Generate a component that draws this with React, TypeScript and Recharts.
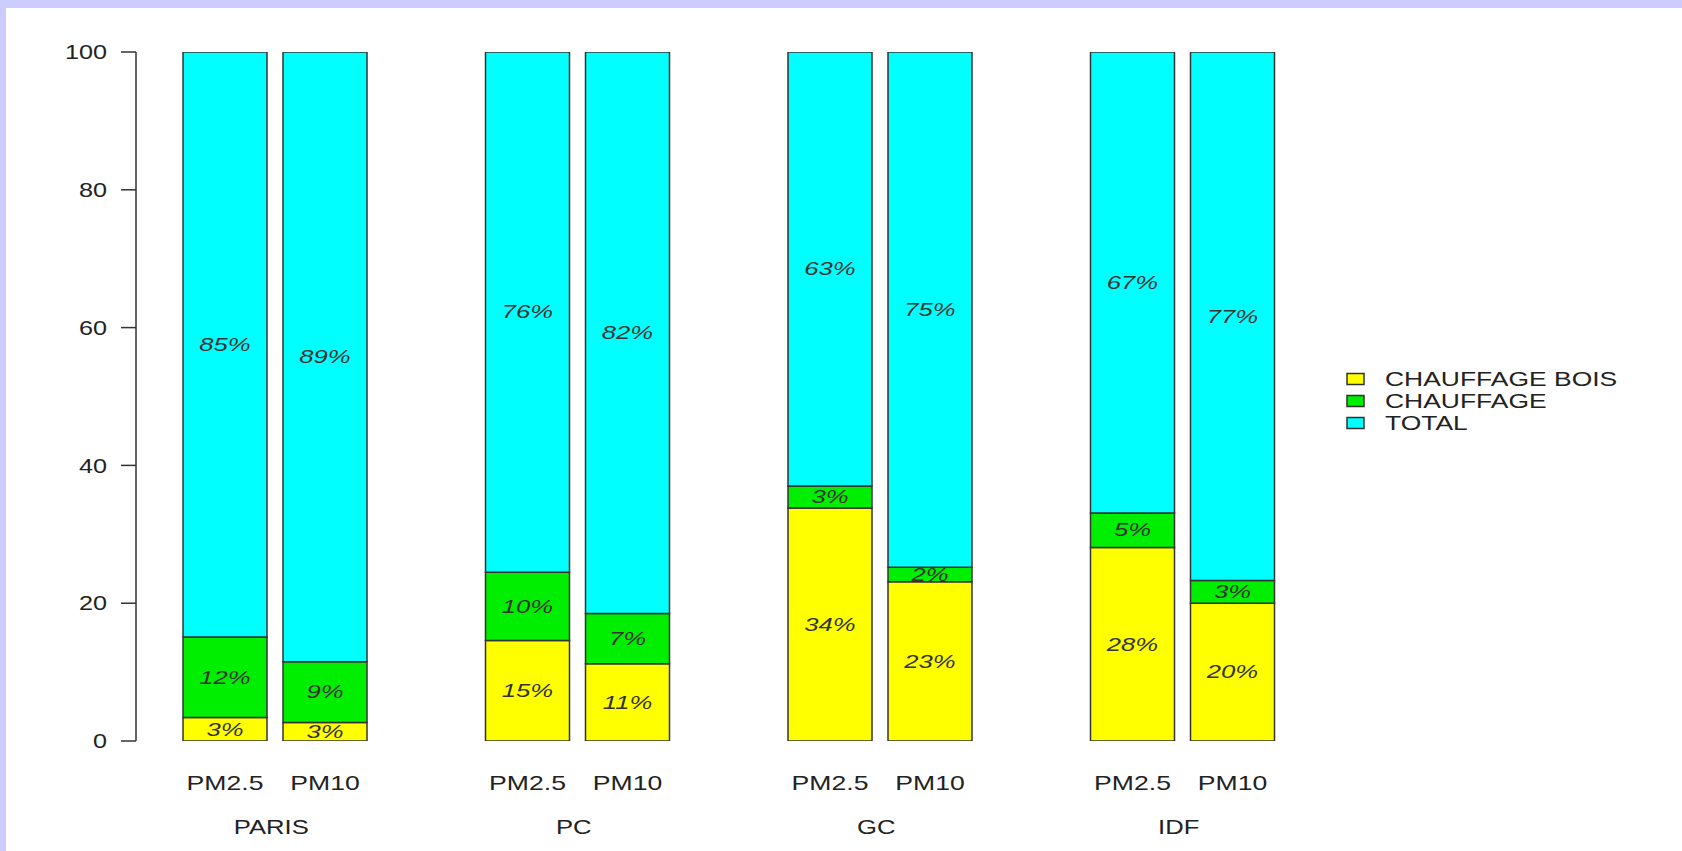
import { BarChart, Bar, XAxis, YAxis, Legend, LabelList } from "recharts";

const regions = ["PARIS", "PC", "GC", "IDF"];
const pollutants = ["PM2.5", "PM10"];
const seriesNames = ["CHAUFFAGE BOIS", "CHAUFFAGE", "TOTAL"];
const seriesColors = ["#ffff00", "#00ee00", "#00ffff"];
const yTicks = [0, 20, 40, 60, 80, 100];

// values per region, PM2.5 then PM10
const boisPm25 = [3.4, 14.6, 33.8, 28.1];
const boisPm10 = [2.7, 11.2, 23.1, 20.0];
const chauffPm25 = [11.7, 9.9, 3.2, 5.0];
const chauffPm10 = [8.8, 7.3, 2.1, 3.3];
const totalPm25 = [84.9, 75.5, 63.0, 66.9];
const totalPm10 = [88.5, 81.5, 74.8, 76.7];

// printed labels
const boisPm25Lbl = ["3%", "15%", "34%", "28%"];
const boisPm10Lbl = ["3%", "11%", "23%", "20%"];
const chauffPm25Lbl = ["12%", "10%", "3%", "5%"];
const chauffPm10Lbl = ["9%", "7%", "2%", "3%"];
const totalPm25Lbl = ["85%", "76%", "63%", "67%"];
const totalPm10Lbl = ["89%", "82%", "75%", "77%"];

const rows = regions.map((r, i) => ({
  region: r,
  pm25Bois: boisPm25[i],
  pm25Chauff: chauffPm25[i],
  pm25Total: totalPm25[i],
  pm10Bois: boisPm10[i],
  pm10Chauff: chauffPm10[i],
  pm10Total: totalPm10[i],
  pm25BoisL: boisPm25Lbl[i],
  pm25ChauffL: chauffPm25Lbl[i],
  pm25TotalL: totalPm25Lbl[i],
  pm10BoisL: boisPm10Lbl[i],
  pm10ChauffL: chauffPm10Lbl[i],
  pm10TotalL: totalPm10Lbl[i],
}));

const FONT = "'Liberation Sans', Arial, sans-serif";
const STROKE = "#333";

function StretchText({ x, y, sx, size, anchor = "middle", italic = false, fill = "#222", children }: any) {
  return (
    <text
      transform={`translate(${x},${y}) scale(${sx},1)`}
      textAnchor={anchor}
      dominantBaseline="central"
      fontSize={size}
      fontFamily={FONT}
      fontStyle={italic ? "italic" : "normal"}
      fill={fill}
    >
      {children}
    </text>
  );
}

function pctLabel(props: any) {
  const { x, y, width, height, value } = props;
  const cx = Number(x) + Number(width) / 2;
  const cy = Number(y) + Number(height) / 2;
  return (
    <StretchText x={cx} y={cy} sx={1.35} size={19} italic fill="#333">
      {value}
    </StretchText>
  );
}

function subLabel(text: string) {
  return (props: any) => {
    const { x, y, width, height } = props;
    const cx = Number(x) + Number(width) / 2;
    const base = Number(y) + Number(height);
    return (
      <StretchText x={cx} y={base + 42} sx={1.33} size={20}>
        {text}
      </StretchText>
    );
  };
}

function GroupTick(props: any) {
  const { x, y, payload } = props;
  return (
    <StretchText x={Number(x) - 4} y={Number(y) + 86} sx={1.22} size={21}>
      {payload.value}
    </StretchText>
  );
}

function YTick(props: any) {
  const { x, y, payload } = props;
  return (
    <StretchText x={x} y={y} sx={1.2} size={21} anchor="end">
      {payload.value}
    </StretchText>
  );
}

function LegendBox() {
  return (
    <svg width={300} height={80}>
      {seriesNames.map((n, i) => (
        <g key={n}>
          <rect x={1} y={15 + i * 22 - 5.5} width={17} height={11} fill={seriesColors[i]} stroke={STROKE} strokeWidth={1.5} />
          <StretchText x={39} y={15 + i * 22} sx={1.26} size={21} anchor="start">
            {n}
          </StretchText>
        </g>
      ))}
    </svg>
  );
}

export default function App() {
  return (
    <div style={{ position: "absolute", left: 0, top: 0, width: 1682, height: 851, background: "#ccccff", overflow: "hidden" }}>
      <div style={{ position: "absolute", left: 6, top: 8, width: 1676, height: 843, background: "#ffffff" }}>
        <BarChart
          width={1676}
          height={843}
          data={rows}
          margin={{ top: 44, right: 348, bottom: 10, left: 0 }}
          barSize={84}
          barGap={16}
        >
          <XAxis
            dataKey="region"
            type="category"
            height={100}
            axisLine={false}
            tickLine={false}
            tickSize={0}
            tickMargin={0}
            padding={{ left: -12, right: 0 }}
            tick={<GroupTick />}
            interval={0}
          />
          <YAxis
            type="number"
            domain={[0, 100]}
            ticks={yTicks}
            allowDataOverflow
            width={130}
            tickSize={15}
            tickMargin={14}
            axisLine={{ stroke: STROKE, strokeWidth: 1.5 }}
            tickLine={{ stroke: STROKE, strokeWidth: 1.5 }}
            tick={<YTick />}
          />
          <Legend
            layout="vertical"
            align="center"
            verticalAlign="middle"
            wrapperStyle={{ left: 1340, top: 356, width: 300 }}
            content={() => <LegendBox />}
          />
          <Bar dataKey="pm25Bois" name={seriesNames[0]} stackId="pm25" fill={seriesColors[0]} stroke={STROKE} strokeWidth={1.5} isAnimationActive={false}>
            <LabelList dataKey="pm25BoisL" content={pctLabel} />
            <LabelList dataKey="pm25BoisL" content={subLabel(pollutants[0])} />
          </Bar>
          <Bar dataKey="pm25Chauff" name={seriesNames[1]} stackId="pm25" fill={seriesColors[1]} stroke={STROKE} strokeWidth={1.5} isAnimationActive={false}>
            <LabelList dataKey="pm25ChauffL" content={pctLabel} />
          </Bar>
          <Bar dataKey="pm25Total" name={seriesNames[2]} stackId="pm25" fill={seriesColors[2]} stroke={STROKE} strokeWidth={1.5} isAnimationActive={false}>
            <LabelList dataKey="pm25TotalL" content={pctLabel} />
          </Bar>
          <Bar dataKey="pm10Bois" legendType="none" stackId="pm10" fill={seriesColors[0]} stroke={STROKE} strokeWidth={1.5} isAnimationActive={false}>
            <LabelList dataKey="pm10BoisL" content={pctLabel} />
            <LabelList dataKey="pm10BoisL" content={subLabel(pollutants[1])} />
          </Bar>
          <Bar dataKey="pm10Chauff" legendType="none" stackId="pm10" fill={seriesColors[1]} stroke={STROKE} strokeWidth={1.5} isAnimationActive={false}>
            <LabelList dataKey="pm10ChauffL" content={pctLabel} />
          </Bar>
          <Bar dataKey="pm10Total" legendType="none" stackId="pm10" fill={seriesColors[2]} stroke={STROKE} strokeWidth={1.5} isAnimationActive={false}>
            <LabelList dataKey="pm10TotalL" content={pctLabel} />
          </Bar>
        </BarChart>
      </div>
    </div>
  );
}
